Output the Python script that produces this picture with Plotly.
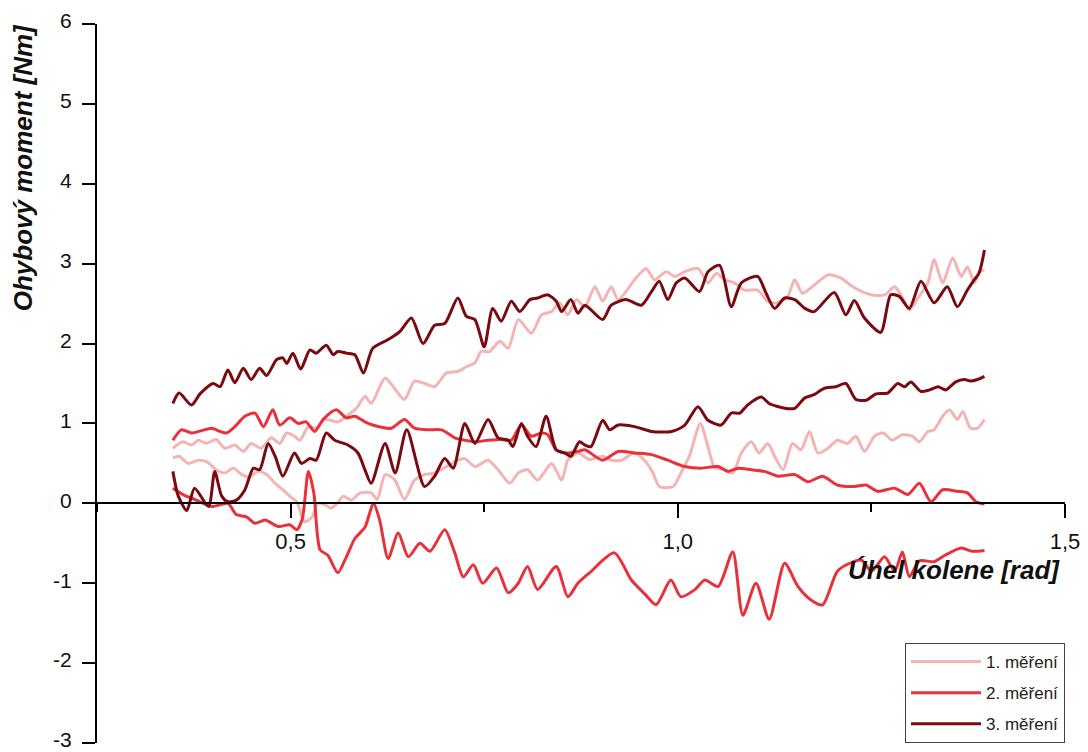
import plotly.graph_objects as go

# ---------------- data ----------------
series_names = ["1. měření", "2. měření", "3. měření"]
series_colors = ["#F4B4B4", "#E8313A", "#7A0A10"]

# 1. měření - upper branch
m1_up_x = [0.348, 0.361, 0.372, 0.381, 0.391, 0.404, 0.415, 0.428, 0.439, 0.449, 0.462, 0.475, 0.486, 0.495,
           0.505, 0.512, 0.523, 0.533, 0.544, 0.561, 0.572, 0.585, 0.596, 0.604, 0.622, 0.634, 0.647, 0.660,
           0.673, 0.686, 0.701, 0.716, 0.727, 0.738, 0.746, 0.757, 0.770, 0.781, 0.794, 0.811, 0.824, 0.837,
           0.847, 0.858, 0.869, 0.880, 0.893, 0.903, 0.914, 0.923, 0.946, 0.959, 0.970, 0.985, 0.996, 1.009,
           1.026, 1.039, 1.050, 1.060, 1.073, 1.086, 1.103, 1.116, 1.129, 1.142, 1.151, 1.161, 1.176, 1.194,
           1.211, 1.226, 1.249, 1.267, 1.280, 1.288, 1.299, 1.310, 1.323, 1.331, 1.342, 1.355, 1.366, 1.374,
           1.383, 1.389, 1.396]
m1_up_y = [0.69, 0.77, 0.73, 0.79, 0.75, 0.80, 0.69, 0.73, 0.65, 0.75, 0.69, 0.82, 0.75, 0.88,
           0.84, 0.79, 0.96, 0.94, 1.05, 1.02, 1.09, 1.19, 1.34, 1.25, 1.57, 1.44, 1.30, 1.53,
           1.50, 1.46, 1.63, 1.65, 1.71, 1.76, 1.90, 1.90, 2.03, 1.94, 2.30, 2.13, 2.36, 2.40,
           2.51, 2.36, 2.55, 2.46, 2.71, 2.53, 2.71, 2.55, 2.82, 2.94, 2.80, 2.90, 2.84, 2.90,
           2.94, 2.76, 2.88, 2.80, 2.76, 2.67, 2.67, 2.53, 2.51, 2.59, 2.80, 2.63, 2.73, 2.86,
           2.82, 2.71, 2.61, 2.61, 2.71, 2.61, 2.42, 2.57, 2.76, 3.05, 2.76, 3.07, 2.84, 2.96,
           2.76, 2.90, 2.92]

# 1. měření - lower branch
m1_lo_x = [0.348, 0.356, 0.368, 0.381, 0.392, 0.404, 0.415, 0.426, 0.437, 0.447, 0.458, 0.469, 0.480, 0.490,
           0.500, 0.508, 0.518, 0.528, 0.535, 0.545, 0.552, 0.560, 0.568, 0.578, 0.590, 0.604, 0.612, 0.622,
           0.634, 0.647, 0.660, 0.673, 0.686, 0.701, 0.716, 0.725, 0.738, 0.755, 0.768, 0.783, 0.794, 0.806,
           0.819, 0.837, 0.850, 0.858, 0.871, 0.886, 0.903, 0.914, 0.927, 0.944, 0.957, 0.968, 0.976, 0.994,
           1.004, 1.015, 1.029, 1.039, 1.047, 1.060, 1.071, 1.082, 1.095, 1.105, 1.116, 1.125, 1.136, 1.148,
           1.159, 1.170, 1.181, 1.194, 1.206, 1.219, 1.230, 1.241, 1.254, 1.265, 1.277, 1.290, 1.303, 1.312,
           1.323, 1.331, 1.342, 1.351, 1.361, 1.368, 1.378, 1.387, 1.396]
m1_lo_y = [0.57, 0.59, 0.50, 0.54, 0.52, 0.42, 0.38, 0.44, 0.36, 0.33, 0.40, 0.36, 0.25, 0.17,
           0.08, 0.02, -0.23, -0.17, 0.00, -0.02, -0.06, 0.00, 0.09, 0.04, 0.13, 0.13, 0.05, 0.36,
           0.30, 0.05, 0.29, 0.36, 0.38, 0.46, 0.54, 0.56, 0.46, 0.54, 0.42, 0.25, 0.38, 0.42,
           0.29, 0.50, 0.29, 0.54, 0.63, 0.55, 0.59, 0.54, 0.54, 0.63, 0.54, 0.38, 0.21, 0.21,
           0.38, 0.59, 1.00, 0.71, 0.46, 0.42, 0.38, 0.63, 0.77, 0.63, 0.75, 0.59, 0.42, 0.75,
           0.67, 0.90, 0.63, 0.69, 0.79, 0.75, 0.84, 0.65, 0.84, 0.88, 0.79, 0.86, 0.84, 0.77,
           0.90, 0.92, 1.09, 1.17, 1.05, 1.15, 0.94, 0.94, 1.05]

# 2. měření - upper branch
m2_up_x = [0.348, 0.359, 0.372, 0.385, 0.398, 0.409, 0.417, 0.428, 0.441, 0.454, 0.465, 0.477, 0.486, 0.499,
           0.510, 0.520, 0.531, 0.542, 0.559, 0.572, 0.583, 0.596, 0.606, 0.630, 0.647, 0.660, 0.677, 0.695,
           0.712, 0.725, 0.738, 0.755, 0.772, 0.785, 0.798, 0.811, 0.824, 0.832, 0.843, 0.856, 0.871, 0.880,
           0.903, 0.923, 0.944, 0.966, 0.987, 1.009, 1.030, 1.052, 1.065, 1.078, 1.095, 1.112, 1.129, 1.151,
           1.168, 1.187, 1.206, 1.228, 1.243, 1.258, 1.280, 1.297, 1.312, 1.327, 1.342, 1.361, 1.374, 1.385,
           1.396]
m2_up_y = [0.79, 0.92, 0.88, 0.91, 0.94, 0.90, 0.88, 0.96, 1.09, 1.13, 0.96, 1.17, 0.98, 1.07,
           1.00, 1.02, 0.90, 1.05, 1.17, 1.07, 1.09, 1.02, 0.98, 0.94, 1.05, 0.94, 0.92, 0.92,
           0.82, 0.79, 0.77, 0.79, 0.80, 0.79, 0.98, 0.84, 0.88, 0.86, 0.67, 0.63, 0.65, 0.67,
           0.54, 0.65, 0.63, 0.61, 0.54, 0.46, 0.44, 0.46, 0.40, 0.44, 0.42, 0.40, 0.34, 0.36,
           0.27, 0.34, 0.23, 0.21, 0.23, 0.15, 0.19, 0.11, 0.25, 0.02, 0.17, 0.15, 0.13, 0.02,
           -0.01]

# 2. měření - lower branch
m2_lo_x = [0.348, 0.363, 0.376, 0.398, 0.419, 0.430, 0.443, 0.454, 0.467, 0.484, 0.499, 0.508, 0.515, 0.523,
           0.530, 0.538, 0.548, 0.561, 0.572, 0.583, 0.596, 0.607, 0.615, 0.626, 0.639, 0.652, 0.667, 0.680,
           0.699, 0.712, 0.723, 0.736, 0.748, 0.766, 0.781, 0.794, 0.806, 0.819, 0.843, 0.858, 0.871, 0.886,
           0.918, 0.940, 0.957, 0.972, 0.991, 1.004, 1.022, 1.035, 1.052, 1.071, 1.084, 1.101, 1.118, 1.138,
           1.155, 1.172, 1.187, 1.206, 1.222, 1.237, 1.250, 1.267, 1.280, 1.290, 1.299, 1.312, 1.331, 1.345,
           1.366, 1.380, 1.396]
m2_lo_y = [0.19, 0.10, 0.05, -0.04, 0.00, -0.14, -0.17, -0.25, -0.21, -0.29, -0.27, -0.33, -0.20, 0.40,
           0.13, -0.58, -0.65, -0.87, -0.67, -0.44, -0.30, 0.00, -0.21, -0.69, -0.37, -0.67, -0.50, -0.60,
           -0.33, -0.62, -0.92, -0.77, -1.00, -0.81, -1.12, -1.00, -0.79, -1.08, -0.79, -1.17, -1.00, -0.87,
           -0.62, -0.96, -1.13, -1.27, -0.96, -1.17, -1.08, -0.96, -1.04, -0.61, -1.40, -1.00, -1.45, -0.75,
           -1.04, -1.21, -1.27, -0.85, -0.75, -0.71, -0.85, -0.67, -0.85, -0.61, -0.92, -0.72, -0.73, -0.65,
           -0.56, -0.60, -0.59]

# 3. měření - upper branch
m3_up_x = [0.348, 0.356, 0.372, 0.383, 0.400, 0.409, 0.419, 0.428, 0.439, 0.449, 0.460, 0.469, 0.482, 0.490,
           0.495, 0.503, 0.513, 0.525, 0.533, 0.546, 0.555, 0.561, 0.572, 0.583, 0.594, 0.606, 0.626, 0.641,
           0.656, 0.671, 0.686, 0.699, 0.716, 0.727, 0.738, 0.750, 0.761, 0.772, 0.785, 0.796, 0.809, 0.819,
           0.832, 0.843, 0.850, 0.862, 0.871, 0.880, 0.903, 0.914, 0.933, 0.953, 0.966, 0.976, 0.987, 0.998,
           1.009, 1.028, 1.039, 1.054, 1.069, 1.082, 1.103, 1.114, 1.125, 1.138, 1.151, 1.164, 1.176, 1.202,
           1.217, 1.228, 1.241, 1.262, 1.275, 1.286, 1.299, 1.314, 1.331, 1.348, 1.361, 1.374, 1.383, 1.389,
           1.396]
m3_up_y = [1.25, 1.38, 1.23, 1.37, 1.50, 1.46, 1.67, 1.51, 1.69, 1.55, 1.69, 1.60, 1.80, 1.82,
           1.75, 1.88, 1.68, 1.92, 1.88, 1.98, 1.86, 1.90, 1.88, 1.86, 1.63, 1.94, 2.05, 2.15,
           2.32, 2.00, 2.23, 2.25, 2.57, 2.34, 2.30, 1.96, 2.44, 2.28, 2.53, 2.40, 2.55, 2.57,
           2.61, 2.53, 2.40, 2.55, 2.38, 2.48, 2.30, 2.48, 2.55, 2.48, 2.65, 2.78, 2.55, 2.76,
           2.82, 2.65, 2.90, 2.98, 2.46, 2.76, 2.84, 2.63, 2.44, 2.57, 2.55, 2.44, 2.40, 2.64,
           2.36, 2.54, 2.32, 2.14, 2.61, 2.59, 2.44, 2.78, 2.51, 2.71, 2.46, 2.67, 2.80, 2.88,
           3.17]

# 3. měření - lower branch
m3_lo_x = [0.348, 0.355, 0.366, 0.376, 0.394, 0.402, 0.411, 0.419, 0.430, 0.441, 0.452, 0.460, 0.471, 0.480,
           0.490, 0.505, 0.514, 0.525, 0.533, 0.546, 0.557, 0.574, 0.587, 0.596, 0.604, 0.622, 0.635, 0.650,
           0.673, 0.686, 0.699, 0.710, 0.725, 0.738, 0.755, 0.768, 0.781, 0.787, 0.798, 0.806, 0.817, 0.830,
           0.843, 0.854, 0.862, 0.873, 0.880, 0.888, 0.903, 0.912, 0.923, 0.944, 0.966, 0.992, 1.009, 1.026,
           1.039, 1.056, 1.069, 1.080, 1.090, 1.108, 1.118, 1.138, 1.151, 1.164, 1.176, 1.189, 1.204, 1.217,
           1.230, 1.243, 1.256, 1.271, 1.284, 1.293, 1.301, 1.314, 1.325, 1.336, 1.346, 1.359, 1.370, 1.379,
           1.387, 1.396]
m3_lo_y = [0.40, 0.09, -0.09, 0.19, -0.04, 0.40, 0.09, 0.02, 0.04, 0.17, 0.44, 0.42, 0.75, 0.59,
           0.34, 0.63, 0.50, 0.56, 0.54, 0.88, 0.79, 0.73, 0.63, 0.42, 0.25, 0.75, 0.38, 0.92,
           0.21, 0.34, 0.56, 0.44, 1.00, 0.75, 1.05, 0.82, 0.79, 0.71, 1.00, 0.84, 0.71, 1.09,
           0.67, 0.63, 0.59, 0.77, 0.73, 0.71, 1.04, 0.92, 0.98, 0.96, 0.90, 0.90, 0.98, 1.21,
           1.04, 0.98, 1.13, 1.13, 1.23, 1.33, 1.25, 1.19, 1.19, 1.32, 1.36, 1.44, 1.46, 1.50,
           1.30, 1.29, 1.37, 1.38, 1.50, 1.46, 1.52, 1.40, 1.42, 1.46, 1.42, 1.52, 1.55, 1.53,
           1.55, 1.59]

branches = [
    [(m1_up_x, m1_up_y), (m1_lo_x, m1_lo_y)],
    [(m2_up_x, m2_up_y), (m2_lo_x, m2_lo_y)],
    [(m3_up_x, m3_up_y), (m3_lo_x, m3_lo_y)],
]

y_tick_vals = [-3, -2, -1, 0, 1, 2, 3, 4, 5, 6]
y_tick_text = ["-3", "-2", "-1", "0", "1", "2", "3", "4", "5", "6"]
x_tick_vals = [0.5, 1.0, 1.5]
x_tick_text = ["0,5", "1,0", "1,5"]

x_title = "Úhel kolene [rad]"
y_title = "Ohybový moment [Nm]"

# ---------------- figure ----------------
fig = go.Figure()
for i, (name, color) in enumerate(zip(series_names, series_colors)):
    for j, (bx, by) in enumerate(branches[i]):
        fig.add_trace(go.Scatter(
            x=bx, y=by, mode="lines", name=name,
            legendgroup=name, showlegend=(j == 0),
            line=dict(color=color, width=3, shape="spline", smoothing=0.7),
        ))

font_family = "Liberation Sans, Arial, sans-serif"

# the page body adds an 8 px offset, so the figure is 8 px smaller on each axis
fig.update_layout(
    width=1080, height=744,
    margin=dict(l=89, r=23, t=16, b=9, autoexpand=False),
    paper_bgcolor="white", plot_bgcolor="white",
    separators=",.",
    font=dict(family=font_family, size=22, color="#111"),
    showlegend=True,
    legend=dict(
        x=1.0, xanchor="right", y=0.0, yanchor="bottom",
        bordercolor="#444", borderwidth=1, bgcolor="white",
        font=dict(size=17, color="#222"),
        traceorder="grouped", tracegroupgap=6,
        itemwidth=70,
    ),
    xaxis=dict(
        range=[0.25, 1.5], anchor="free", position=1/3,
        showline=True, linecolor="black", linewidth=2,
        ticks="outside", ticklen=14, tickwidth=2, tickcolor="black",
        tickvals=x_tick_vals, ticktext=x_tick_text,
        minor=dict(ticks="outside", ticklen=8, tickwidth=2, tickcolor="black", dtick=0.25, tick0=0),
        showgrid=False, zeroline=False, automargin=False,
        tickfont=dict(size=22, color="#111"),
        ticklabelstandoff=4, ticklabeloverflow="allow",
    ),
    yaxis=dict(
        range=[-3, 6], domain=[0, 1],
        showline=True, linecolor="black", linewidth=2,
        ticks="outside", ticklen=13, tickwidth=2, tickcolor="black",
        tickvals=y_tick_vals, ticktext=y_tick_text,
        showgrid=False, zeroline=False, automargin=False,
        tickfont=dict(size=21, color="#111"),
        ticklabelstandoff=6, ticklabeloverflow="allow", ticklabelshift=-3,
    ),
    annotations=[
        dict(text="<b><i>" + x_title + "</i></b>", xref="paper", yref="paper",
             x=0.885, y=0.240, xanchor="center", yanchor="middle", showarrow=False,
             font=dict(size=26, color="#111", family=font_family)),
        dict(text="<b><i>" + y_title + "</i></b>", xref="paper", yref="paper",
             x=-0.077, y=0.80, xanchor="center", yanchor="middle", showarrow=False,
             textangle=-90, font=dict(size=26, color="#111", family=font_family)),
    ],
)

fig.write_html("out.html")
